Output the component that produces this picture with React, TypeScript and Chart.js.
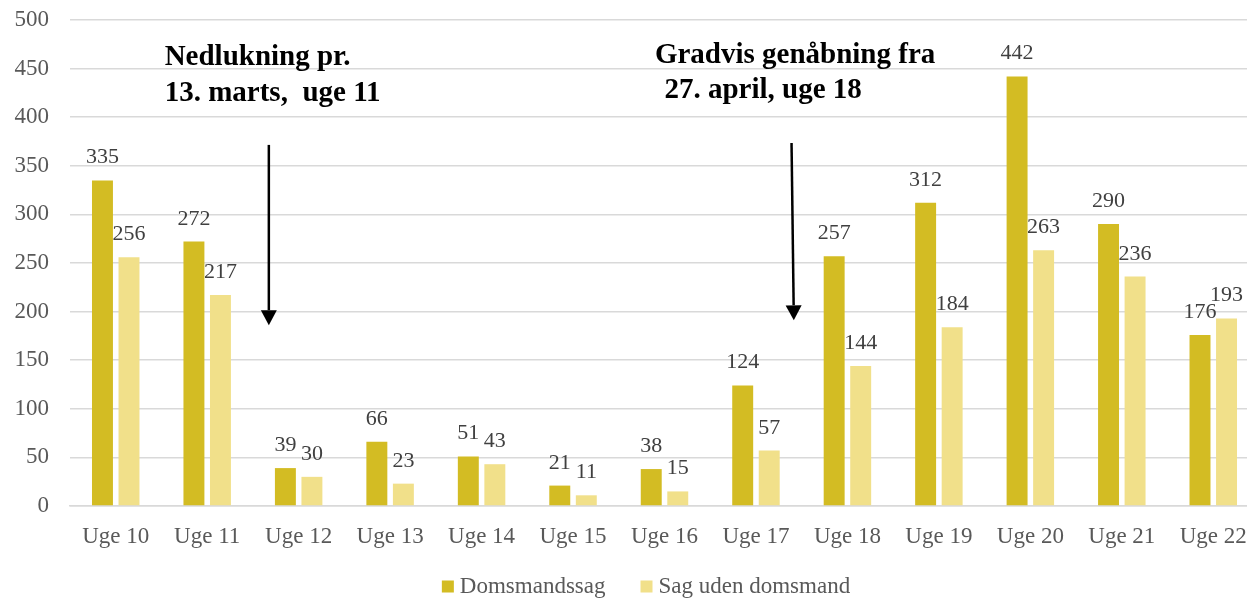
import React, { useEffect, useRef } from "react";
import { Chart, registerables } from "chart.js";

Chart.register(...registerables);

const categories = ["Uge 10", "Uge 11", "Uge 12", "Uge 13", "Uge 14", "Uge 15", "Uge 16", "Uge 17", "Uge 18", "Uge 19", "Uge 20", "Uge 21", "Uge 22"];
const domsmandssag = [335, 272, 39, 66, 51, 21, 38, 124, 257, 312, 442, 290, 176];
const sagUdenDomsmand = [256, 217, 30, 23, 43, 11, 15, 57, 144, 184, 263, 236, 193];
const seriesLabels = ["Domsmandssag", "Sag uden domsmand"];
const annotationText1 = ["Nedlukning pr.", "13. marts,  uge 11"];
const annotationText2 = ["Gradvis genåbning fra", " 27. april, uge 18"];

const FONT = '"Liberation Serif", "Times New Roman", serif';
const DARK = "#D3BC23";
const LIGHT = "#F1E08A";

const dataLabelPlugin = {
  id: "dataLabels",
  afterDatasetsDraw(chart: any) {
    const ctx = chart.ctx;
    ctx.save();
    ctx.font = `22px ${FONT}`;
    ctx.fillStyle = "#404040";
    ctx.textAlign = "center";
    ctx.textBaseline = "alphabetic";
    chart.data.datasets.forEach((ds: any, di: number) => {
      const meta = chart.getDatasetMeta(di);
      meta.data.forEach((bar: any, i: number) => {
        ctx.fillText(String(ds.data[i]), bar.x, bar.y - 17);
      });
    });
    ctx.restore();
  },
};

const annotationPlugin = {
  id: "annotations",
  afterDraw(chart: any) {
    const ctx = chart.ctx;
    const x = chart.scales.x;
    const y = chart.scales.y;
    const cx = (v: number) => x.getPixelForValue(0) + (x.getPixelForValue(1) - x.getPixelForValue(0)) * v;
    ctx.save();
    ctx.font = `bold 29px ${FONT}`;
    ctx.fillStyle = "#000";
    ctx.textAlign = "left";
    ctx.textBaseline = "alphabetic";
    ctx.fillText(annotationText1[0], cx(0.535), y.getPixelForValue(454));
    ctx.fillText(annotationText1[1], cx(0.535), y.getPixelForValue(416.5));
    ctx.fillText(annotationText2[0], cx(5.895), y.getPixelForValue(455.5));
    ctx.fillText(annotationText2[1], cx(5.92), y.getPixelForValue(419.5));

    const arrow = (x1: number, y1: number, x2: number, y2: number) => {
      const ang = Math.atan2(y2 - y1, x2 - x1);
      const headLen = 15;
      const headHalf = 8;
      const bx = x2 - headLen * Math.cos(ang);
      const by = y2 - headLen * Math.sin(ang);
      ctx.strokeStyle = "#000";
      ctx.lineWidth = 2.5;
      ctx.beginPath();
      ctx.moveTo(x1, y1);
      ctx.lineTo(bx, by);
      ctx.stroke();
      ctx.beginPath();
      ctx.moveTo(x2, y2);
      ctx.lineTo(bx + headHalf * Math.sin(ang), by - headHalf * Math.cos(ang));
      ctx.lineTo(bx - headHalf * Math.sin(ang), by + headHalf * Math.cos(ang));
      ctx.closePath();
      ctx.fillStyle = "#000";
      ctx.fill();
    };
    arrow(cx(1.674), y.getPixelForValue(371.5), cx(1.674), y.getPixelForValue(186));
    arrow(cx(7.389), y.getPixelForValue(373.5), cx(7.414), y.getPixelForValue(191));
    ctx.restore();
  },
};

const legendPlugin = {
  id: "customLegend",
  afterDraw(chart: any) {
    const ctx = chart.ctx;
    ctx.save();
    ctx.font = `23px ${FONT}`;
    ctx.textBaseline = "alphabetic";
    ctx.textAlign = "left";
    const box = 12;
    const gap = 6;
    const sep = 35;
    const items = chart.data.datasets.map((ds: any) => ({ label: ds.label, color: ds.backgroundColor, w: ctx.measureText(ds.label).width }));
    const total = items.reduce((s: number, it: any) => s + box + gap + it.w, 0) + sep * (items.length - 1);
    let xPos = 646 - total / 2;
    const baseline = 593;
    items.forEach((it: any) => {
      ctx.fillStyle = it.color;
      ctx.fillRect(xPos, baseline - 12.5, box, box);
      ctx.fillStyle = "#595959";
      ctx.fillText(it.label, xPos + box + gap, baseline);
      xPos += box + gap + it.w + sep;
    });
    ctx.restore();
  },
};

export default function App() {
  const canvasRef = useRef<HTMLCanvasElement | null>(null);
  useEffect(() => {
    if (!canvasRef.current) return;
    const chart = new Chart(canvasRef.current, {
      type: "bar",
      data: {
        labels: categories,
        datasets: [
          { label: seriesLabels[0], data: domsmandssag, backgroundColor: DARK, categoryPercentage: 0.58, barPercentage: 0.79 },
          { label: seriesLabels[1], data: sagUdenDomsmand, backgroundColor: LIGHT, categoryPercentage: 0.58, barPercentage: 0.79 },
        ],
      },
      options: {
        animation: false,
        responsive: true,
        maintainAspectRatio: false,
        layout: { padding: { top: 20, bottom: 43, left: 0, right: 0 } },
        plugins: { legend: { display: false }, tooltip: { enabled: false } },
        scales: {
          x: {
            grid: { display: false, drawTicks: false },
            border: { display: true, color: "#D9D9D9", width: 1.5 },
            ticks: { color: "#595959", font: { family: FONT, size: 23 }, padding: 17, maxRotation: 0, autoSkip: false },
            afterFit(scale: any) {
              scale.height = 50;
              scale.paddingLeft = 0;
              scale.paddingRight = 0;
              scale.paddingTop = 0;
              scale.paddingBottom = 0;
            },
          },
          y: {
            min: 0,
            max: 500,
            grid: { color: "#D9D9D9", lineWidth: 1.5, drawTicks: false },
            border: { display: false },
            ticks: { stepSize: 50, color: "#595959", font: { family: FONT, size: 23 }, padding: 21 },
            afterFit(scale: any) {
              scale.width = 70;
              scale.paddingLeft = 0;
              scale.paddingRight = 0;
              scale.paddingTop = 0;
              scale.paddingBottom = 0;
            },
          },
        },
      },
      plugins: [dataLabelPlugin, annotationPlugin, legendPlugin],
    });
    return () => chart.destroy();
  }, []);
  return (
    <div style={{ position: "absolute", left: 0, top: 0, width: 1247, height: 599, overflow: "hidden", background: "#fff" }}>
      <div style={{ position: "relative", width: 1259, height: 599 }}>
        <canvas ref={canvasRef} />
      </div>
    </div>
  );
}
